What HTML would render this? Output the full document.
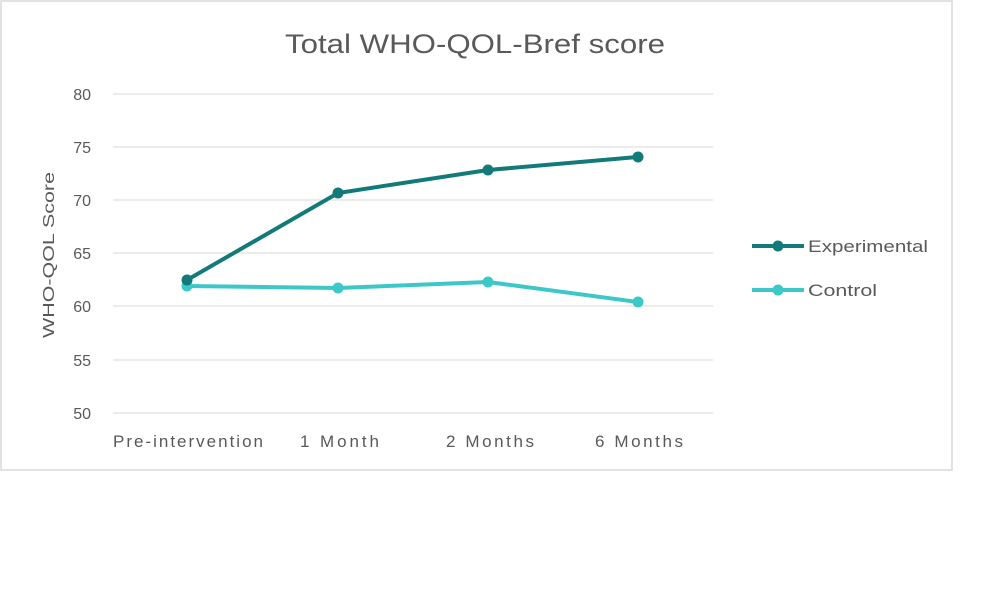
<!DOCTYPE html>
<html><head><style>body{margin:0;background:#fff}</style></head><body>
<svg width="1000" height="592" xmlns="http://www.w3.org/2000/svg" font-family="Liberation Sans, sans-serif">
<rect x="1" y="1" width="951" height="469" fill="#fff" stroke="#d9d9d9" stroke-width="1.5"/>
<text x="475" y="53" font-size="27" fill="#595959" text-anchor="middle" textLength="380" lengthAdjust="spacingAndGlyphs">Total WHO-QOL-Bref score</text>
<g stroke="#d9d9d9" stroke-width="1">
<line x1="113" x2="713" y1="94" y2="94"/><line x1="113" x2="713" y1="147" y2="147"/>
<line x1="113" x2="713" y1="200" y2="200"/><line x1="113" x2="713" y1="253" y2="253"/>
<line x1="113" x2="713" y1="306" y2="306"/><line x1="113" x2="713" y1="360" y2="360"/>
<line x1="113" x2="713" y1="413" y2="413"/></g>
<g font-size="16" fill="#595959" text-anchor="end">
<text x="91" y="100">80</text><text x="91" y="153">75</text><text x="91" y="206">70</text>
<text x="91" y="259">65</text><text x="91" y="312">60</text><text x="91" y="366">55</text><text x="91" y="419">50</text></g>
<g font-size="17" fill="#595959" lengthAdjust="spacingAndGlyphs">
<text x="113" y="447" textLength="150">Pre-intervention</text><text x="300" y="447" textLength="79">1 Month</text>
<text x="446" y="447" textLength="88">2 Months</text><text x="595" y="447" textLength="88">6 Months</text></g>
<text transform="translate(54,255) rotate(-90)" font-size="16" fill="#595959" text-anchor="middle" textLength="166" lengthAdjust="spacingAndGlyphs">WHO-QOL Score</text>
<polyline points="187,286 338,288 488,282 638,302" fill="none" stroke="#3cc8c8" stroke-width="4"/>
<polyline points="187,280 338,193 488,170 638,157" fill="none" stroke="#127a78" stroke-width="4"/>
<g fill="#3cc8c8"><circle cx="187" cy="286" r="5.5"/><circle cx="338" cy="288" r="5.5"/><circle cx="488" cy="282" r="5.5"/><circle cx="638" cy="302" r="5.5"/></g>
<g fill="#127a78"><circle cx="187" cy="280" r="5.5"/><circle cx="338" cy="193" r="5.5"/><circle cx="488" cy="170" r="5.5"/><circle cx="638" cy="157" r="5.5"/></g>
<line x1="752" x2="804" y1="246" y2="246" stroke="#127a78" stroke-width="4"/><circle cx="778" cy="246" r="5.5" fill="#127a78"/>
<text x="808" y="252" font-size="17" fill="#595959" textLength="120" lengthAdjust="spacingAndGlyphs">Experimental</text>
<line x1="752" x2="804" y1="290" y2="290" stroke="#3cc8c8" stroke-width="4"/><circle cx="778" cy="290" r="5.5" fill="#3cc8c8"/>
<text x="808" y="296" font-size="17" fill="#595959" textLength="69" lengthAdjust="spacingAndGlyphs">Control</text>
</svg>
</body></html>
